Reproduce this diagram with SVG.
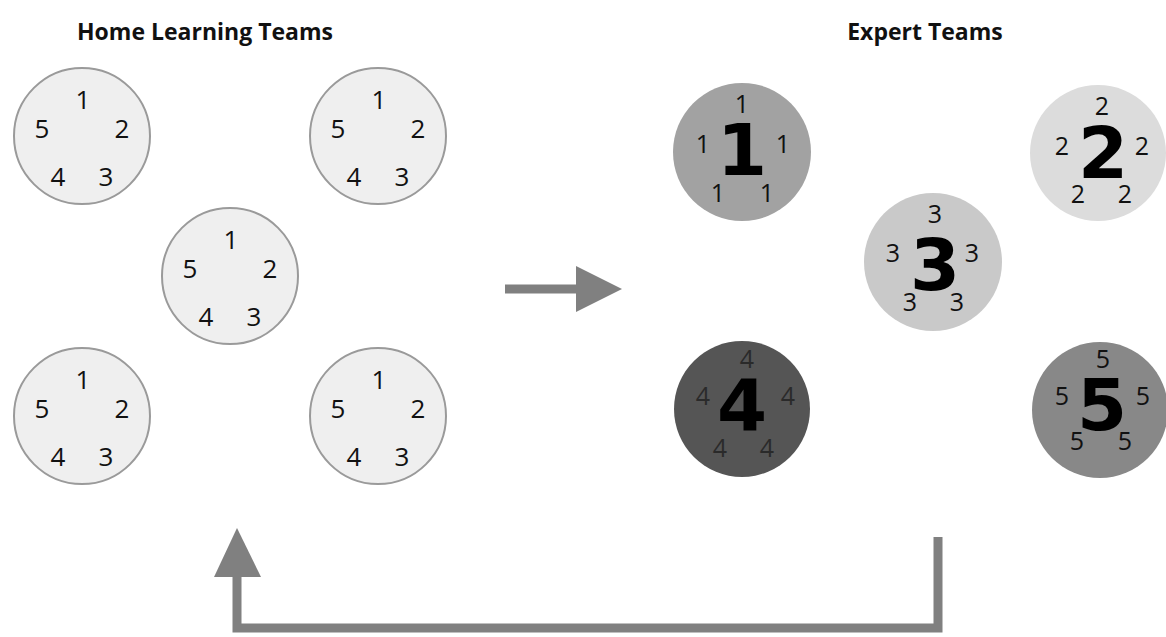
<svg xmlns="http://www.w3.org/2000/svg" width="1166" height="637" viewBox="0 0 1166 637">
<style>
.title{font-family:"Open Sans","Liberation Sans",sans-serif;font-weight:bold;font-size:23px;fill:#111;text-anchor:middle}
.home{fill:#efefef;stroke:#9a9a9a;stroke-width:2}
.n{font-family:"Open Sans","DejaVu Sans",sans-serif;font-size:26px;fill:#111;text-anchor:middle}
.s{font-family:"Open Sans","DejaVu Sans",sans-serif;font-size:25px;fill:#111;text-anchor:middle}
.big{font-family:"DejaVu Sans",sans-serif;font-weight:bold;font-size:72px;fill:#000;text-anchor:middle}
.conn{stroke:#808080;stroke-width:9;fill:none}
</style>
<rect width="1166" height="637" fill="#ffffff"/>
<text class="title" x="205" y="40">Home Learning Teams</text>
<text class="title" x="925" y="40">Expert Teams</text>

<g id="home1"><circle class="home" cx="82" cy="136" r="68"/>
<text class="n" x="83" y="109">1</text><text class="n" x="42" y="138">5</text><text class="n" x="122" y="138">2</text><text class="n" x="58" y="186">4</text><text class="n" x="106" y="186">3</text></g>
<g id="home2"><circle class="home" cx="378" cy="136" r="68"/>
<text class="n" x="379" y="109">1</text><text class="n" x="338" y="138">5</text><text class="n" x="418" y="138">2</text><text class="n" x="354" y="186">4</text><text class="n" x="402" y="186">3</text></g>
<g id="home3"><circle class="home" cx="230" cy="276" r="68"/>
<text class="n" x="231" y="249">1</text><text class="n" x="190" y="278">5</text><text class="n" x="270" y="278">2</text><text class="n" x="206" y="326">4</text><text class="n" x="254" y="326">3</text></g>
<g id="home4"><circle class="home" cx="82" cy="416" r="68"/>
<text class="n" x="83" y="389">1</text><text class="n" x="42" y="418">5</text><text class="n" x="122" y="418">2</text><text class="n" x="58" y="466">4</text><text class="n" x="106" y="466">3</text></g>
<g id="home5"><circle class="home" cx="378" cy="416" r="68"/>
<text class="n" x="379" y="389">1</text><text class="n" x="338" y="418">5</text><text class="n" x="418" y="418">2</text><text class="n" x="354" y="466">4</text><text class="n" x="402" y="466">3</text></g>

<g id="expert1"><circle cx="742" cy="152" r="69" fill="#a2a2a2"/>
<text class="big" x="742" y="175">1</text>
<text class="s" x="742" y="113">1</text><text class="s" x="703" y="153">1</text><text class="s" x="783" y="153">1</text><text class="s" x="718" y="202">1</text><text class="s" x="767" y="202">1</text></g>
<g id="expert2"><circle cx="1098" cy="153" r="68" fill="#dcdcdc"/>
<text class="big" x="1103" y="178">2</text>
<text class="s" x="1102" y="115">2</text><text class="s" x="1062" y="155">2</text><text class="s" x="1142" y="155">2</text><text class="s" x="1078" y="203">2</text><text class="s" x="1125" y="203">2</text></g>
<g id="expert3"><circle cx="933" cy="262" r="69" fill="#c9c9c9"/>
<text class="big" x="935" y="290">3</text>
<text class="s" x="935" y="223">3</text><text class="s" x="893" y="262">3</text><text class="s" x="972" y="262">3</text><text class="s" x="910" y="311">3</text><text class="s" x="957" y="311">3</text></g>
<g id="expert4"><circle cx="742" cy="409" r="68" fill="#555555"/>
<text class="big" x="742" y="430">4</text>
<g fill="#2a2a2a"><text class="s" x="747" y="368" style="fill:#2a2a2a">4</text><text class="s" x="703" y="405" style="fill:#2a2a2a">4</text><text class="s" x="788" y="405" style="fill:#2a2a2a">4</text><text class="s" x="720" y="457" style="fill:#2a2a2a">4</text><text class="s" x="767" y="457" style="fill:#2a2a2a">4</text></g></g>
<g id="expert5"><circle cx="1100" cy="410" r="68" fill="#888888"/>
<text class="big" x="1102" y="430">5</text>
<text class="s" x="1103" y="368">5</text><text class="s" x="1062" y="405">5</text><text class="s" x="1143" y="405">5</text><text class="s" x="1077" y="450">5</text><text class="s" x="1125" y="450">5</text></g>

<g id="connectors">
<line class="conn" x1="505" y1="289" x2="580" y2="289"/>
<polygon points="576,266 622,289 576,312" fill="#808080"/>
<polyline class="conn" points="938,537 938,628 237,628 237,570"/>
<polygon points="214,577 237,528 261,577" fill="#808080"/>
</g>
</svg>
